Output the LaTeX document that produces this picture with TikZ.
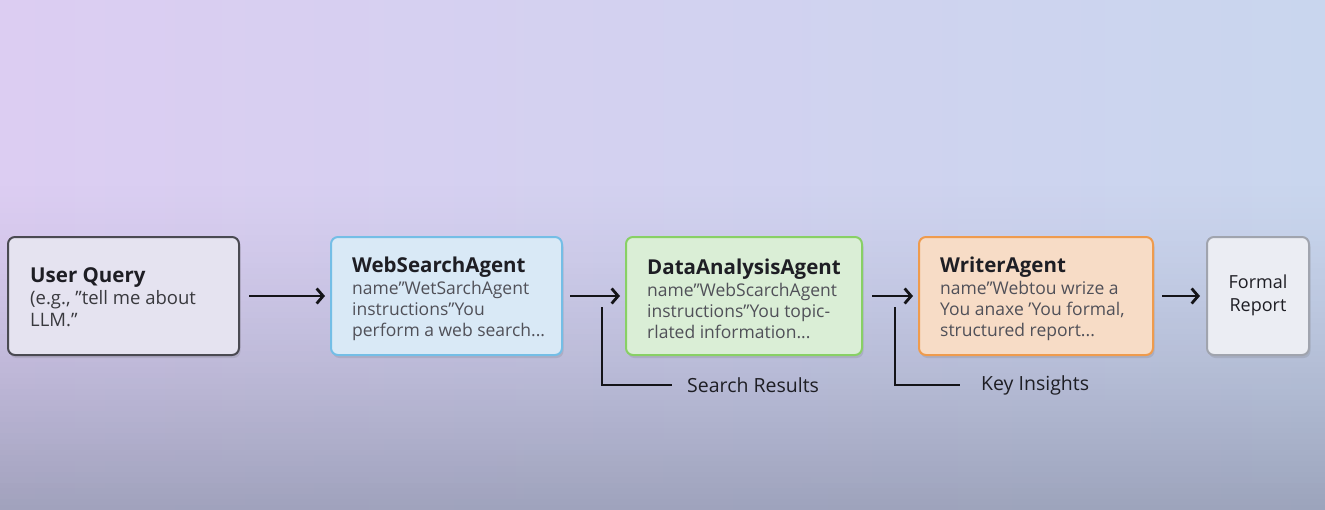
\documentclass[tikz,border=0pt]{standalone}
\usepackage{fontspec}
\setmainfont{Open Sans}
\usetikzlibrary{shadows,arrows.meta}
\definecolor{bgtl}{HTML}{DCCDF2}
\definecolor{bgtr}{HTML}{C9D6EE}
\definecolor{bgbot}{HTML}{8E94AC}
\definecolor{uqfill}{HTML}{E5E3F0}
\definecolor{uqdraw}{HTML}{4A4A52}
\definecolor{wsfill}{HTML}{D9E9F6}
\definecolor{wsdraw}{HTML}{74BEE6}
\definecolor{dafill}{HTML}{DAEED6}
\definecolor{dadraw}{HTML}{88D065}
\definecolor{wrfill}{HTML}{F7DCC6}
\definecolor{wrdraw}{HTML}{EF9B4D}
\definecolor{frfill}{HTML}{EBEDF3}
\definecolor{frdraw}{HTML}{A0A4AE}
\definecolor{titlecol}{HTML}{1E1E24}
\definecolor{bodycol}{HTML}{505058}
\definecolor{linecol}{HTML}{141418}
\tikzset{
  box/.style={draw, line width=2pt, rounded corners=7pt, anchor=north west,
    inner sep=0pt, minimum height=118pt,
    drop shadow={shadow xshift=1.5pt, shadow yshift=-3pt, opacity=0.18, fill=black!60}},
  txt/.style={anchor=west, align=left, inner sep=0pt, text=bodycol,
    font=\fontsize{17.5}{21}\selectfont},
  arr/.style={line width=2.8pt, draw=linecol, -{Straight Barb[length=6.5pt,width=15pt,line width=2.8pt]}},
  brk/.style={line width=2.5pt, draw=linecol},
  lbl/.style={anchor=west, inner sep=0pt, text=titlecol, font=\fontsize{19.5}{23}\selectfont}
}
\newcommand{\ttlx}[1]{{\fontsize{20.5}{24}\selectfont\bfseries\color{titlecol}#1}}
\begin{document}
\begin{tikzpicture}[x=1pt,y=-1pt]
\useasboundingbox (0,0) rectangle (1325,509);
\shade[left color=bgtl, right color=bgtr] (0,0) rectangle (1325,509);
\foreach \i in {0,...,59} {
  \pgfmathsetmacro{\yy}{180+\i*5.5}
  \pgfmathsetmacro{\op}{0.75*(\i/59)^1.3}
  \fill[bgbot, opacity=\op] (0,\yy) rectangle (1325,\yy+5.6);
}

\node[box, draw=uqdraw, fill=uqfill, minimum width=231pt] (uq) at (7,236) {};
\node[box, draw=wsdraw, fill=wsfill, minimum width=231pt] (ws) at (330,236) {};
\node[box, draw=dadraw, fill=dafill, minimum width=236pt] (da) at (625,236) {};
\node[box, draw=wrdraw, fill=wrfill, minimum width=234pt] (wr) at (918,236) {};
\node[box, draw=frdraw, fill=frfill, minimum width=102pt] (fr) at (1206,236) {};

\node[txt, text=titlecol!88, font=\fontsize{18.5}{22}\selectfont] (uqt) at ([xshift=23pt,yshift=-1pt]uq.west)
  {\ttlx{User Query}\\[0pt](e.g., "tell me about\\LLM."};
\node[txt] (wst) at ([xshift=22pt,yshift=-3pt]ws.west)
  {\ttlx{WebSearchAgent}\\[1pt]name"WetSarchAgent\\instructions"You\\perform a web search...};
\node[txt] (dat) at ([xshift=22pt,yshift=-3pt]da.west)
  {\ttlx{DataAnalysisAgent}\\[1pt]name"WebScarchAgent\\instructions"You topic-\\rlated information...};
\node[txt] (wrt) at ([xshift=22pt,yshift=-3pt]wr.west)
  {\ttlx{WriterAgent}\\[1pt]name"Webtou wrize a\\You anaxe 'You formal,\\structured report...};
\node[txt, anchor=center, align=center, text=titlecol, font=\fontsize{18}{23}\selectfont] (frt) at ([yshift=1pt]fr.center)
  {Formal\\Report};

\draw[arr, shorten <=9pt, shorten >=5pt] (uq) -- (ws);
\draw[arr, shorten <=7pt, shorten >=5pt] (ws) -- (da);
\draw[arr, shorten <=9pt, shorten >=5pt] (da) -- (wr);
\draw[arr, shorten <=8pt, shorten >=6pt] (wr) -- (fr);

\node[lbl] (sr) at (687,385) {Search Results};
\node[lbl] (ki) at (981,385) {Key Insights};
\coordinate (c1) at (602,307);
\coordinate (c2) at (895,307);
\draw[brk, shorten >=15pt] (c1) |- (sr.west);
\draw[brk, shorten >=21pt] (c2) |- (ki.west);
\end{tikzpicture}
\end{document}
